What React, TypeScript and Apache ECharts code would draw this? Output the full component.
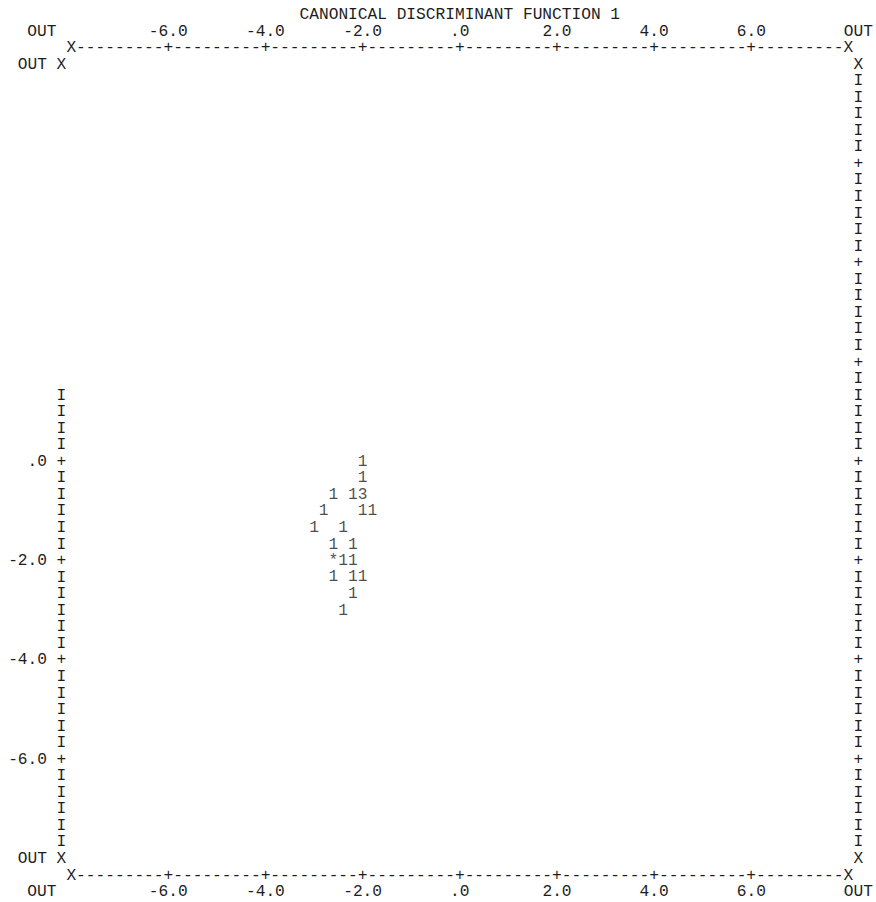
import React, { useEffect, useRef } from "react";
import * as echarts from "echarts";

// ---- data (canonical discriminant scores, group 1) ----
const fn1Scores = [
  -2.0, -2.0, -2.6, -2.2, -2.0, -2.8, -2.0, -1.8, -3.0, -2.4,
  -2.6, -2.2, -2.6, -2.4, -2.2, -2.6, -2.2, -2.0, -2.2, -2.4,
];
const fn2Scores = [
  0.0, -0.33, -0.67, -0.67, -0.67, -1.0, -1.0, -1.0, -1.33, -1.33,
  -1.67, -1.67, -2.0, -2.0, -2.0, -2.33, -2.33, -2.33, -2.67, -3.0,
];
const plotSymbols = [
  "1", "1", "1", "1", "3", "1", "1", "1", "1", "1",
  "1", "1", "*", "1", "1", "1", "1", "1", "1", "1",
];

// ---- tick labels ----
const xTicks = [-6, -4, -2, 0, 2, 4, 6];
const xTickLabels = ["-6.0", "-4.0", "-2.0", ".0", "2.0", "4.0", "6.0"];
const yTicks = [0, -2, -4, -6];
const yTickLabels = [".0", "-2.0", "-4.0", "-6.0"];
const outLabel = "OUT";
const xTitle = "CANONICAL DISCRIMINANT FUNCTION 1";

const FONT = '"Liberation Mono", "DejaVu Sans Mono", monospace';
const FS = 16.2;
const INK = "#1d1d1d";

export default function App() {
  const ref = useRef<HTMLDivElement>(null);

  useEffect(() => {
    const chart = echarts.init(ref.current as HTMLDivElement, null, { renderer: "svg" });
    const txt = { fontFamily: FONT, fontSize: FS, color: INK };

    const xFmt = (v: number) => {
      const i = xTicks.indexOf(v);
      return i >= 0 ? xTickLabels[i] : "";
    };
    const yFmt = (v: number) => {
      if (v === 8 || v === -8) return outLabel;
      const i = yTicks.indexOf(v);
      return i >= 0 ? yTickLabels[i] : "";
    };

    const xAxisBase = {
      type: "value",
      min: -8,
      max: 8,
      interval: 2,
      axisLine: { show: false },
      axisTick: { show: false },
      splitLine: { show: false },
      axisLabel: {
        ...txt,
        margin: 33,
        verticalAlign: "middle",
        showMinLabel: true,
        showMaxLabel: true,
        formatter: xFmt,
      },
    };

    chart.setOption({
      animation: false,
      backgroundColor: "#ffffff",
      grid: { left: 71, right: 27.4, top: 64.6, bottom: 43, containLabel: false },
      xAxis: [
        { ...xAxisBase, position: "top" },
        { ...xAxisBase, position: "bottom" },
      ],
      yAxis: {
        type: "value",
        min: -8,
        max: 8,
        interval: 2,
        axisLine: { show: false },
        axisTick: { show: false },
        splitLine: { show: false },
        axisLabel: {
          ...txt,
          margin: 24,
          verticalAlign: "middle",
          showMinLabel: true,
          showMaxLabel: true,
          formatter: yFmt,
        },
      },
      series: [
        {
          type: "scatter",
          name: "Group 1",
          xAxisIndex: 0,
          yAxisIndex: 0,
          clip: false,
          symbolSize: 1,
          itemStyle: { color: "rgba(0,0,0,0)" },
          data: fn1Scores.map((x, i) => [x, fn2Scores[i]]),
          label: {
            show: true,
            position: "inside",
            ...txt,
            formatter: (p: any) => plotSymbols[p.dataIndex],
          },
          z: 5,
        },
      ],
    });

    // printer-style frame, positioned through the chart's own scales
    const P = (x: number, y: number) =>
      chart.convertToPixel({ xAxisIndex: 0, yAxisIndex: 0 }, [x, y]) as number[];
    const els: any[] = [];
    const put = (x: number, y: number, s: string, align = "center") => {
      const [px, py] = P(x, y);
      els.push({
        type: "text",
        x: px,
        y: py,
        silent: true,
        style: {
          text: s,
          fontFamily: FONT,
          fontSize: FS,
          fill: INK,
          align,
          verticalAlign: "middle",
        },
      });
    };

    const row = 1 / 3;
    // title
    put(0, 8 + 3 * row, xTitle);
    // horizontal axis lines
    const hLine = "X" + "---------+".repeat(7) + "---------X";
    put(0, 8 + row, hLine);
    put(0, -8 - row, hLine);
    // OUT labels for the horizontal axes
    put(-8.6, 8 + 2 * row, outLabel);
    put(8.2, 8 + 2 * row, outLabel);
    put(-8.6, -8 - 2 * row, outLabel);
    put(8.2, -8 - 2 * row, outLabel);
    // vertical axes
    for (let k = 0; k <= 48; k++) {
      const y = 8 - k * row;
      const ch = k === 0 || k === 48 ? "X" : k % 6 === 0 ? "+" : "I";
      if (!(k >= 1 && k <= 19)) put(-8.2, y, ch);
      put(8.2, y, ch);
    }

    chart.setOption({ graphic: { elements: els } });

    return () => chart.dispose();
  }, []);

  return (
    <div
      ref={ref}
      style={{ position: "fixed", left: 0, top: 0, width: 876, height: 902, background: "#fff" }}
    />
  );
}
